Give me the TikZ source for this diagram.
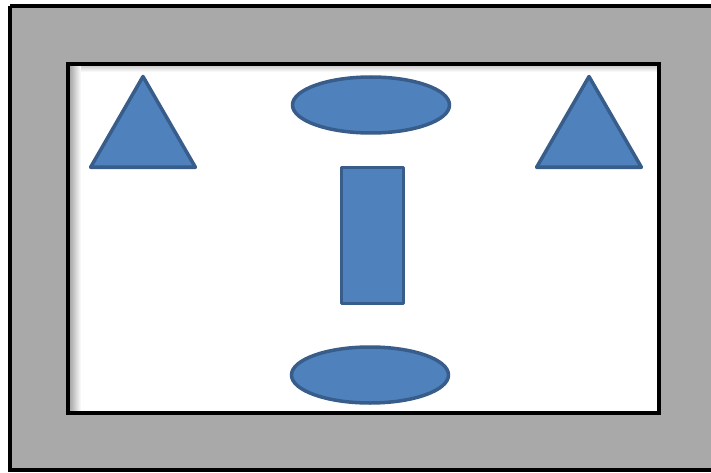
\documentclass[tikz,border=0pt]{standalone}
\usetikzlibrary{shapes.geometric}
\definecolor{shapefill}{HTML}{4F81BD}
\definecolor{shapeline}{HTML}{385D8A}
\definecolor{framegray}{HTML}{A9A9A9}
\tikzset{
  frame/.style={draw=black, line width=4pt, line join=miter},
  blob/.style={draw=shapeline, fill=shapefill, line width=3.5pt, line join=round, inner sep=0pt},
  tri/.style={blob, regular polygon, regular polygon sides=3, minimum size=121pt},
  oval/.style={blob, ellipse, minimum width=157pt, minimum height=56pt},
  bar/.style={blob, rectangle, minimum width=62pt, minimum height=136pt},
}
\begin{document}
\begin{tikzpicture}[x=1pt,y=-1pt]
\useasboundingbox (0,0) rectangle (711,473);
% outer gray frame (runs off the right edge)
\fill[framegray] (10,6) rectangle (730,470);
\draw[frame] (10,6) -- (730,6);
\draw[frame] (10,6) -- (10,470) -- (730,470);
% inner white panel with soft inner shadow
\fill[white] (68,64) rectangle (659,413);
\shade[left color=black!40, right color=white] (68,64) rectangle (81,413);
\shade[top color=black!25, bottom color=white] (81,64) rectangle (659,72);
\draw[frame] (68,64) rectangle (659,413);
% shapes
\node[tri] (lefttri) at (143,137) {};
\node[tri] (righttri) at (589,137) {};
\node[oval] (topoval) at (371,105) {};
\node[bar] (midbar) at (372.5,235.5) {};
\node[oval] (botoval) at (370,375) {};
\end{tikzpicture}
\end{document}
